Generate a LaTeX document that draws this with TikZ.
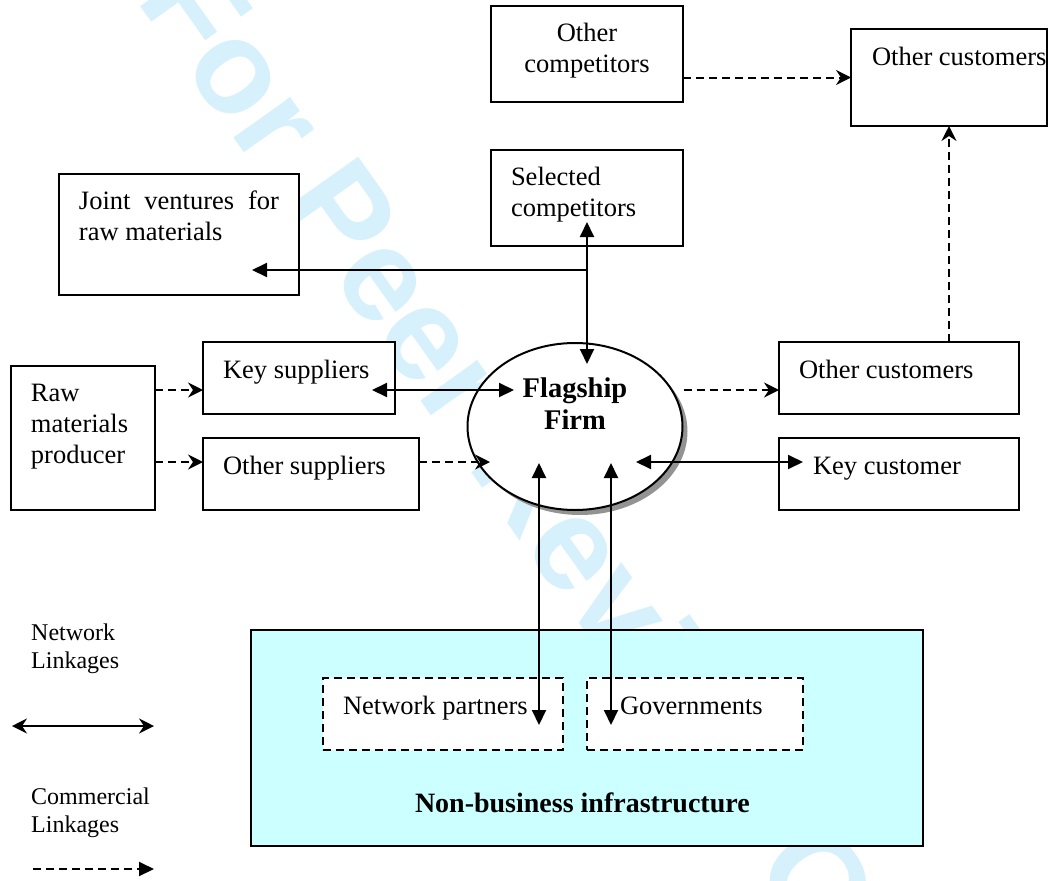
\documentclass[tikz,border=0pt]{standalone}
\usepackage{fontspec}
\setmainfont{Liberation Serif}
\newfontfamily\wmfont{Liberation Sans}
\usetikzlibrary{arrows.meta,shapes.geometric,shadows}
\definecolor{nbfill}{RGB}{204,255,255}
\definecolor{wmblue}{RGB}{214,240,252}
\newcommand\mainfnt{\fontsize{26.5pt}{31pt}\selectfont}
\newcommand\legfnt{\fontsize{24pt}{28pt}\selectfont}
\newcommand\boldfnt{\fontsize{28.5pt}{32pt}\selectfont\bfseries}
\newcommand\nbfnt{\fontsize{28pt}{32pt}\selectfont\bfseries}
% width, height, first baseline, left indent, text
\newcommand\bt[5]{\parbox[t][#2][t]{#1}{\raggedright\leftskip=#4\relax\rule{0pt}{#3}#5}}
\begin{document}
\begin{tikzpicture}[x=1pt,y=-1pt,
  every node/.append style={font=\mainfnt},
  bx/.style={draw,line width=2pt,fill=white,inner sep=0pt,outer sep=0pt,anchor=north west},
  dbx/.style={bx,dash pattern=on 8pt off 5pt},
  net/.style={line width=2pt,arrows={Triangle[length=15pt,width=14pt]-Triangle[length=15pt,width=14pt]}},
  netone/.style={line width=2pt,arrows={-Triangle[length=15pt,width=14pt]}},
  com/.style={line width=2pt,dash pattern=on 8pt off 5pt,arrows={-Stealth[length=15pt,width=15pt,inset=5pt]}},
  lgnet/.style={line width=2pt,arrows={Stealth[length=15pt,width=15pt,inset=5pt]-Stealth[length=15pt,width=15pt,inset=5pt]}},
  lgcom/.style={line width=2pt,dash pattern=on 8pt off 5pt,arrows={-Triangle[length=15pt,width=14pt]}},
  lgtext/.style={inner sep=0pt,anchor=base west,font=\legfnt}]
\useasboundingbox (0,0) rectangle (1061,881);
% watermark
\begin{scope}
\clip (0,0) rectangle (1061,881);
\node[rotate=-54.6,anchor=base west,inner sep=0pt,text=wmblue,font=\wmfont\bfseries\fontsize{132pt}{132pt}\selectfont] (wm) at (135,-1) {For Peer Review Only};
\end{scope}
% boxes
\node[bx] (oc) at (491,6) {\parbox[t][96pt][t]{192pt}{\centering\rule{0pt}{35pt}Other\\competitors}};
\node[bx] (ocu) at (851,29) {\bt{196pt}{97pt}{36pt}{21pt}{Other customers}};
\node[bx] (sc) at (491,150) {\bt{192pt}{96pt}{35pt}{20pt}{Selected\\competitors}};
\node[bx] (jv) at (59,174) {\parbox[t][121pt][t]{240pt}{\leftskip=20pt\rightskip=20pt\rule{0pt}{35pt}Joint ventures for raw materials}};
\node[bx] (ks) at (203,342) {\bt{192pt}{72pt}{36pt}{20pt}{Key suppliers}};
\node[bx] (raw) at (11,366) {\bt{144pt}{144pt}{35pt}{20pt}{Raw\\materials\\producer}};
\node[bx] (os) at (203,438) {\bt{216pt}{72pt}{36pt}{20pt}{Other suppliers}};
\node[bx] (ocm) at (779,342) {\bt{240pt}{72pt}{36pt}{20pt}{Other customers}};
\node[bx] (kc) at (779,438) {\bt{240pt}{72pt}{36pt}{34pt}{Key customer}};
\node[bx,fill=nbfill] (nb) at (251,630) {\bt{672pt}{216pt}{182pt}{164pt}{\nbfnt Non-business infrastructure}};
\node[dbx] (np) at (323,678) {\bt{240pt}{72pt}{36pt}{20pt}{Network partners}};
\node[dbx] (gov) at (587,678) {\bt{216pt}{72pt}{36pt}{33pt}{Governments}};
\node[ellipse,draw,line width=2pt,fill=white,inner sep=0pt,minimum width=215pt,minimum height=167pt,
  drop shadow={shadow xshift=5pt,shadow yshift=-5pt,fill=gray!85,opacity=1}] (flag) at (575,426.5)
  {\raisebox{-5.5pt}{\smash{\makebox[0pt]{\boldfnt\begin{tabular}[b]{@{}c@{}}Flagship\\Firm\end{tabular}}}}};
% coordinates
\coordinate (row1) at (0,390);
\coordinate (row2) at (0,462);
\coordinate (scin) at (587,222);
\coordinate (flagn) at (587,364);
\coordinate (tj) at (587,270);
\coordinate (jvin) at (252,270);
\coordinate (ksin) at (372,390);
\coordinate (flagw) at (514,390);
\coordinate (flagos) at (490,462);
\coordinate (flagkc) at (636,462);
\coordinate (kcin) at (803,462);
\coordinate (flagnp) at (539,463);
\coordinate (npin) at (539,725);
\coordinate (flaggov) at (611,463);
\coordinate (govin) at (611,725);
% connectors
\draw[com] (oc.east |- ocu.west) -- (ocu.west);
\draw[com] (ocu.south |- ocm.north) -- (ocu.south);
\draw[net] (scin) -- (flagn);
\draw[netone] (tj) -- (jvin);
\draw[net] (ksin) -- (flagw);
\draw[com] (raw.east |- row1) -- (ks.west |- row1);
\draw[com] (raw.east |- row2) -- (os.west |- row2);
\draw[com] (os.east |- row2) -- (flagos);
\draw[com] (flag.east |- row1) -- (ocm.west |- row1);
\draw[net] (flagkc) -- (kcin);
\draw[net] (flagnp) -- (npin);
\draw[net] (flaggov) -- (govin);
% legend
\node[lgtext] (lnet) at (31,640) {\parbox[t]{150pt}{\raggedright Network\\Linkages}};
\node[lgtext] (lcom) at (31,804) {\parbox[t]{150pt}{\raggedright Commercial\\Linkages}};
\coordinate (ln1) at (12,726);
\coordinate (ln2) at (154,726);
\coordinate (lc1) at (33,869);
\coordinate (lc2) at (154,869);
\draw[lgnet] (ln1) -- (ln2);
\draw[lgcom] (lc1) -- (lc2);
\end{tikzpicture}
\end{document}
